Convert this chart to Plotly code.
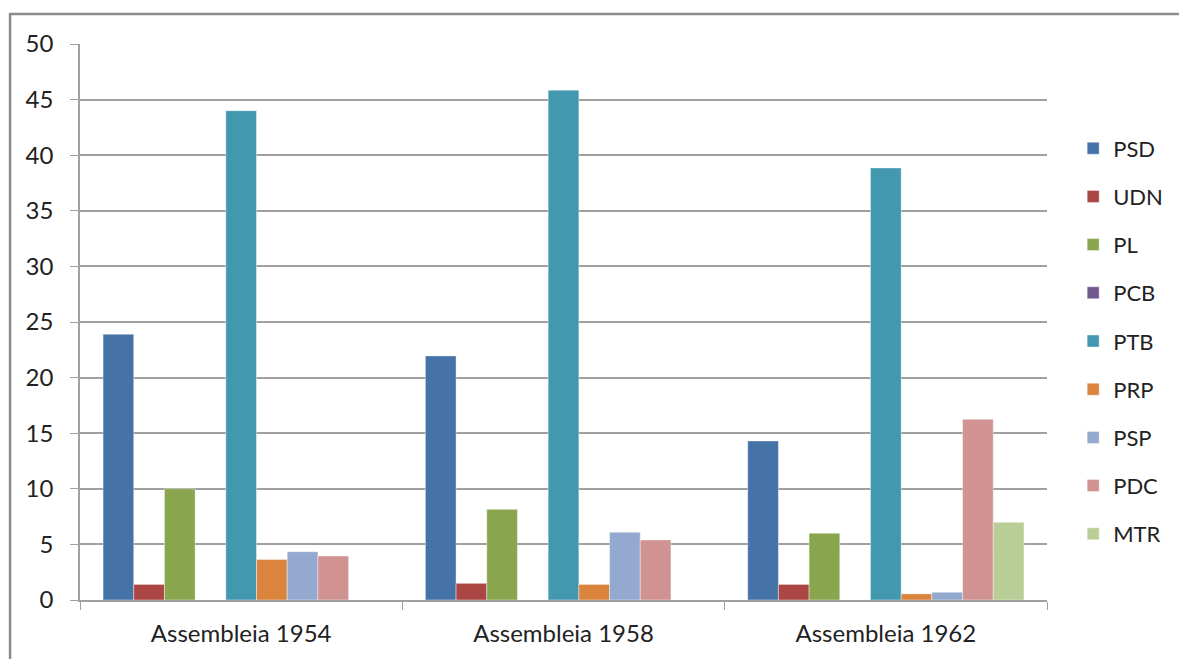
import plotly.graph_objects as go

categories = ["Assembleia 1954", "Assembleia 1958", "Assembleia 1962"]
parties = ["PSD", "UDN", "PL", "PCB", "PTB", "PRP", "PSP", "PDC", "MTR"]
psd = [23.9, 21.95, 14.3]
udn = [1.4, 1.5, 1.4]
pl = [10.0, 8.15, 6.0]
pcb = [0, 0, 0]
ptb = [44.0, 45.85, 38.85]
prp = [3.65, 1.4, 0.55]
psp = [4.35, 6.1, 0.7]
pdc = [3.95, 5.4, 16.25]
mtr = [0, 0, 7.0]
colors = ["#4572A7", "#AA4643", "#89A54E", "#71588F", "#4198AF",
          "#DB843D", "#93A9CF", "#D19392", "#B9CD96"]

series = [psd, udn, pl, pcb, ptb, prp, psp, pdc, mtr]

fig = go.Figure()
for name, vals, col in zip(parties, series, colors):
    fig.add_trace(go.Bar(
        x=categories, y=vals, name=name, legendgroup=name,
        marker=dict(color=col, line=dict(color="rgba(255,255,255,0.5)", width=0.8)),
    ))

FONT = "Lato, 'Noto Sans', sans-serif"
fig.update_layout(
    width=1179, height=659,
    margin=dict(l=80, r=131, t=44, b=59),
    paper_bgcolor="white", plot_bgcolor="white",
    barmode="group", bargap=0.143, bargroupgap=0,
    font=dict(family=FONT, size=24, color="#222222"),
    showlegend=True,
    legend=dict(
        x=1.026, xanchor="left", y=0.85, yanchor="top",
        traceorder="grouped", tracegroupgap=16.6,
        font=dict(size=22, color="#222222"),
        itemwidth=30, bgcolor="rgba(0,0,0,0)",
    ),
    xaxis=dict(
        showline=True, linecolor="#a0a0a0", linewidth=1.5,
        ticks="outside", tickson="boundaries", ticklen=8, tickcolor="#a0a0a0",
        showgrid=False, ticklabelstandoff=11,
        tickfont=dict(size=24),
    ),
    yaxis=dict(
        range=[0, 50], dtick=5, tick0=0,
        showline=True, linecolor="#a0a0a0", linewidth=1.5,
        ticks="outside", ticklen=8, tickcolor="#a0a0a0",
        showgrid=True, gridcolor="#a0a0a0", gridwidth=1.5,
        zeroline=False, ticklabelstandoff=12,
        tickfont=dict(size=24),
    ),
    shapes=[dict(
        type="rect", xref="paper", yref="paper",
        x0=(10 - 80) / 968, x1=1.3, y0=-0.3, y1=(600 - 14) / 556,
        line=dict(color="#8c8c8c", width=2.5), fillcolor="rgba(0,0,0,0)", layer="below",
    )],
)

fig.write_html("out.html")
